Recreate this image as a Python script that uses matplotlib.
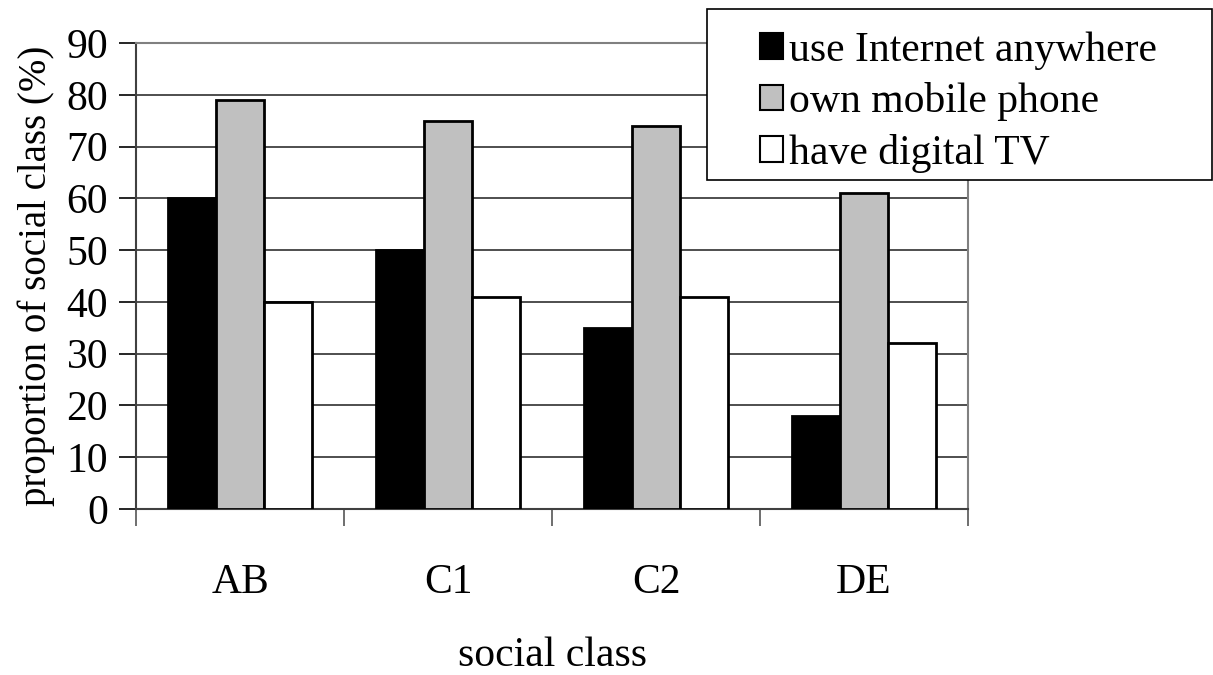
import matplotlib.pyplot as plt
from matplotlib.patches import Rectangle
import numpy as np

classes = ["AB", "C1", "C2", "DE"]
series_names = ["use Internet anywhere", "own mobile phone", "have digital TV"]
internet = [60, 50, 35, 18]
mobile = [79, 75, 74, 61]
digital_tv = [40, 41, 41, 32]
y_ticks = list(range(0, 100, 10))

plt.rcParams["font.family"] = ["Liberation Serif", "DejaVu Serif"]
FS = 30

W, H = 1213, 675
fig = plt.figure(figsize=(W / 100, H / 100), dpi=100)
ax = fig.add_axes([136 / W, 1 - 509 / H, (968 - 136) / W, (509 - 43) / H])

x = np.arange(len(classes))
bw = 0.23
colours = ["black", "#c0c0c0", "white"]
for i, (vals, col, name) in enumerate(zip([internet, mobile, digital_tv], colours, series_names)):
    ax.bar(x + (i - 1) * bw, vals, width=bw, color=col, edgecolor="black",
           linewidth=2, label=name, zorder=3)

ax.set_xlim(-0.5, len(classes) - 0.5)
ax.set_ylim(0, 90)
ax.set_yticks(y_ticks)
ax.tick_params(axis="y", labelsize=FS, length=12, width=1.2, direction="out", pad=8)
ax.yaxis.grid(True, color="#303030", linewidth=1.2, zorder=0)

# category boundaries get the tick marks, names sit in between
ax.set_xticks(np.arange(len(classes) + 1) - 0.5)
ax.set_xticklabels([])
ax.set_xticks(x, minor=True)
ax.set_xticklabels(classes, minor=True)
ax.tick_params(axis="x", which="major", length=12, width=1.2, color="#555555")
ax.tick_params(axis="x", which="minor", length=0, labelsize=FS, pad=39)

for side in ["top", "right"]:
    ax.spines[side].set_color("#808080")
    ax.spines[side].set_linewidth(1.5)
for side in ["left", "bottom"]:
    ax.spines[side].set_color("#404040")
    ax.spines[side].set_linewidth(1.5)

ax.set_ylabel("proportion of social class (%)", fontsize=28, va="center")
ax.yaxis.set_label_coords((36 - 136) / 832, 0.5)
ax.set_xlabel("social class", fontsize=FS, va="center")
ax.xaxis.set_label_coords(0.5, (509 - 656) / 466)

# legend box sits over the top right corner of the plot
box = Rectangle((707 / W, 1 - 180 / H), (1212 - 707) / W, (180 - 9) / H,
                transform=fig.transFigure, facecolor="white", edgecolor="black",
                linewidth=1.2, zorder=4)
fig.patches.append(box)
leg = fig.legend(loc="center left", bbox_to_anchor=(760 / W, 1 - 102 / H),
                 fontsize=FS, frameon=False,
                 handlelength=0.55, handleheight=0.55, handletextpad=0.15,
                 borderpad=0, labelspacing=0.3, borderaxespad=0)
leg.set_zorder(5)
for patch in leg.get_patches():
    patch.set_linewidth(1.5)

fig.savefig("out.png", dpi=100)
